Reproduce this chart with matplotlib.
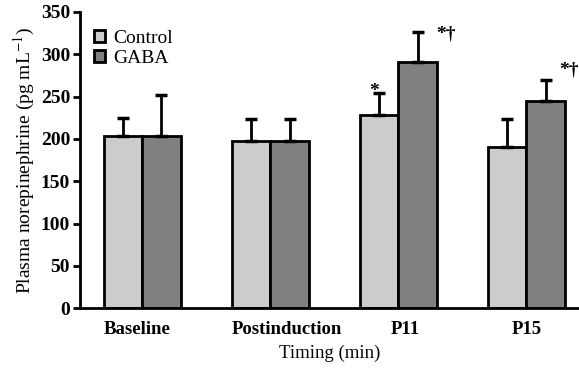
import numpy as np
import matplotlib
matplotlib.use("Agg")
import matplotlib.pyplot as plt

# values
timings = ["Baseline", "Postinduction", "P11", "P15"]
control_mean = [203, 198, 228, 190]
control_sd = [22, 25, 26, 33]
gaba_mean = [203, 197, 291, 245]
gaba_sd = [49, 27, 35, 25]
control_marks = ["", "", "*", ""]
gaba_marks = ["", "", "*\u2020", "*\u2020"]

plt.rcParams["font.family"] = ["Liberation Serif", "DejaVu Serif"]
plt.rcParams["mathtext.fontset"] = "stix"

fig = plt.figure(figsize=(5.79, 3.69), dpi=100)
ax = fig.add_axes([0.138, 0.1645, 0.862, 0.8035])

x = np.arange(len(timings))
w = 0.3
edge = dict(edgecolor="black", linewidth=2)
err = dict(ecolor="black", elinewidth=2, capsize=4, capthick=2.5)

ax.bar(x - w / 2, control_mean, w, color="#cccccc", label="Control",
       yerr=[np.zeros(len(x)), control_sd], error_kw=err, **edge)
ax.bar(x + w / 2, gaba_mean, w, color="#808080", label="GABA",
       yerr=[np.zeros(len(x)), gaba_sd], error_kw=err, **edge)

# significance marks (placement nudges per group)
mark_dx = [0, 0, 0.22, 0.18]
mark_dy = [0, 0, -2, 11]
for i, m in enumerate(control_marks):
    if m:
        ax.text(x[i] - w / 2 - 0.04, control_mean[i] + control_sd[i] + 2, m,
                ha="center", va="center", fontsize=14, fontweight="bold")
for i, m in enumerate(gaba_marks):
    if m:
        ax.text(x[i] + w / 2 + mark_dx[i], gaba_mean[i] + gaba_sd[i] + mark_dy[i], m,
                ha="center", va="center", fontsize=14, fontweight="bold")

ax.set_xlim(-0.487, 3.41)
ax.set_ylim(0, 350)
ax.set_yticks(np.arange(0, 351, 50))
ax.set_xticks(x + np.array([-0.04, 0.13, 0.05, 0.0]))
ax.set_xticklabels(timings)
ax.tick_params(axis="x", length=0, pad=9, labelsize=13.5)
ax.tick_params(axis="y", length=5, width=2, direction="out", labelsize=14, pad=2)
for lab in ax.get_xticklabels() + ax.get_yticklabels():
    lab.set_fontweight("bold")

for s in ["top", "right"]:
    ax.spines[s].set_visible(False)
for s in ["left", "bottom"]:
    ax.spines[s].set_linewidth(2)

ax.set_xlabel("Timing (min)", fontsize=13.5, labelpad=5)
ax.set_ylabel("Plasma norepinephrine (pg mL$^{-1}$)", fontsize=14, labelpad=3)

ax.legend(loc="upper left", bbox_to_anchor=(0.0, 0.985), frameon=False,
          fontsize=14, handlelength=0.6, handleheight=0.6, handletextpad=0.4,
          labelspacing=0.15, borderaxespad=0.3)

fig.savefig("out.png", dpi=100)
